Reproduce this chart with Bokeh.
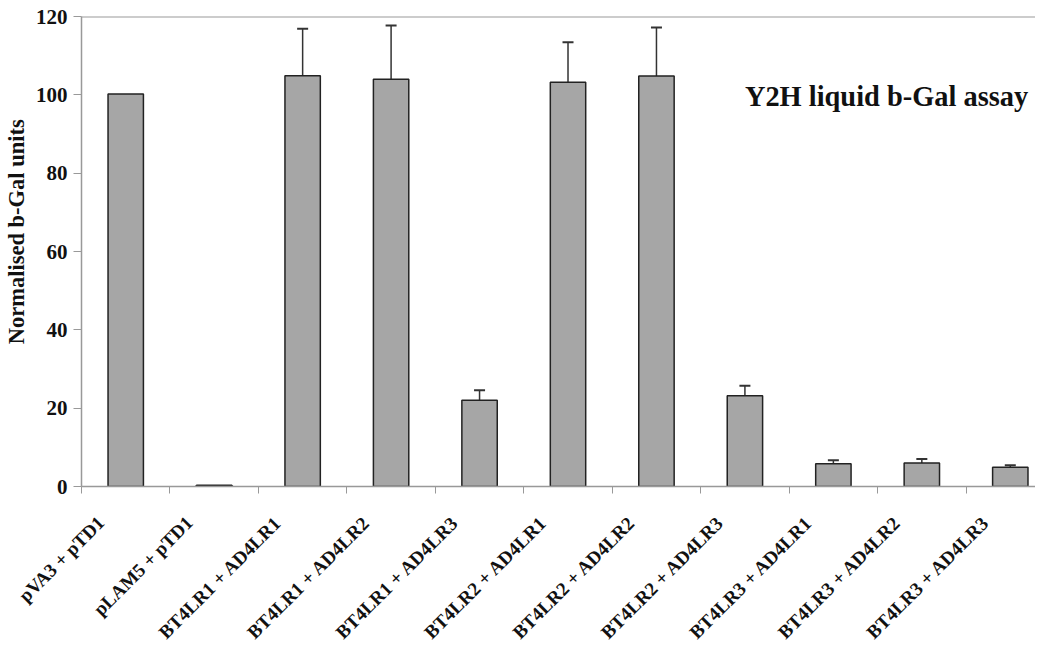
from bokeh.plotting import figure
from bokeh.models import Range1d, FixedTicker, Whisker, TeeHead, ColumnDataSource, Span, Label
from bokeh.embed import file_html
from bokeh.resources import INLINE
import math

categories = ["pVA3 + pTD1", "pLAM5 + pTD1", "BT4LR1 + AD4LR1", "BT4LR1 + AD4LR2",
              "BT4LR1 + AD4LR3", "BT4LR2 + AD4LR1", "BT4LR2 + AD4LR2", "BT4LR2 + AD4LR3",
              "BT4LR3 + AD4LR1", "BT4LR3 + AD4LR2", "BT4LR3 + AD4LR3"]
values = [100.2, 0.3, 104.9, 104.0, 22.0, 103.2, 104.8, 23.2, 5.8, 6.0, 4.9]
errors = [0.0, 0.0, 12.0, 13.7, 2.6, 10.2, 12.4, 2.5, 0.9, 1.0, 0.5]
y_ticks = [0, 20, 40, 60, 80, 100, 120]
title_text = "Y2H liquid b-Gal assay"
y_label = "Normalised b-Gal units"

FONT = "Liberation Serif"

n = len(categories)
xs = [i + 0.5 for i in range(n)]
tops = [v + e for v, e in zip(values, errors)]

H = 653
p = figure(width=1035, height=H, output_backend="svg", toolbar_location=None,
           x_range=Range1d(0, 10.785), y_range=Range1d(0, 120),
           min_border_left=74, min_border_top=16, min_border_bottom=H - 486, min_border_right=0)
p.outline_line_color = None
p.xgrid.visible = False
p.ygrid.visible = False

src = ColumnDataSource(dict(x=xs, v=values, top=tops))
p.vbar(x="x", top="v", bottom=0, width=0.4, source=src,
       fill_color="#a6a6a6", line_color="#222222", line_width=1.5)

err_idx = [i for i in range(n) if errors[i] > 0]
esrc = ColumnDataSource(dict(x=[xs[i] for i in err_idx], lo=[values[i] for i in err_idx],
                             hi=[tops[i] for i in err_idx]))
w = Whisker(base="x", lower="lo", upper="hi", source=esrc, line_color="#333333", line_width=1.5,
            lower_head=None, upper_head=TeeHead(size=11, line_color="#333333", line_width=2))
p.add_layout(w)

p.add_layout(Span(location=120, dimension="width", line_color="#999999", line_width=2))

# y axis
yax = p.yaxis[0]
yax.ticker = FixedTicker(ticks=y_ticks, minor_ticks=[])
yax.axis_line_color = "#999999"
yax.axis_line_width = 1.5
yax.major_tick_line_color = "#999999"
yax.major_tick_out = 8
yax.major_tick_in = 0
yax.major_label_text_font = FONT
yax.major_label_text_font_style = "bold"
yax.major_label_text_font_size = "21px"
yax.major_label_text_color = "#111111"
yax.major_label_standoff = 6
yax.axis_label = "\u00a0" * 7 + y_label
yax.axis_label_text_font = FONT
yax.axis_label_text_font_style = "bold"
yax.axis_label_text_font_size = "22.5px"
yax.axis_label_text_color = "#111111"
yax.axis_label_standoff = 4

# x axis: minor ticks at category boundaries, rotated category labels
label_pos = [i + 0.22 for i in range(n)]
xax = p.xaxis[0]
xax.ticker = FixedTicker(ticks=label_pos, minor_ticks=list(range(n)))
xax.major_label_overrides = {lp: c for lp, c in zip(label_pos, categories)}
xax.major_label_orientation = math.pi / 4
xax.axis_line_color = "#999999"
xax.axis_line_width = 1.5
xax.major_tick_line_color = None
xax.major_tick_out = 0
xax.major_tick_in = 0
xax.minor_tick_line_color = "#999999"
xax.minor_tick_out = 7
xax.minor_tick_in = 0
xax.major_label_text_font = FONT
xax.major_label_text_font_style = "bold"
xax.major_label_text_font_size = "19px"
xax.major_label_text_color = "#111111"
xax.major_label_standoff = 26

p.add_layout(Label(x=7.5, y=99.5, text=title_text, text_font=FONT, text_font_style="bold",
                   text_font_size="28.4px", text_color="#111111", text_baseline="alphabetic"))

open("out.html", "w").write(file_html(p, INLINE))
